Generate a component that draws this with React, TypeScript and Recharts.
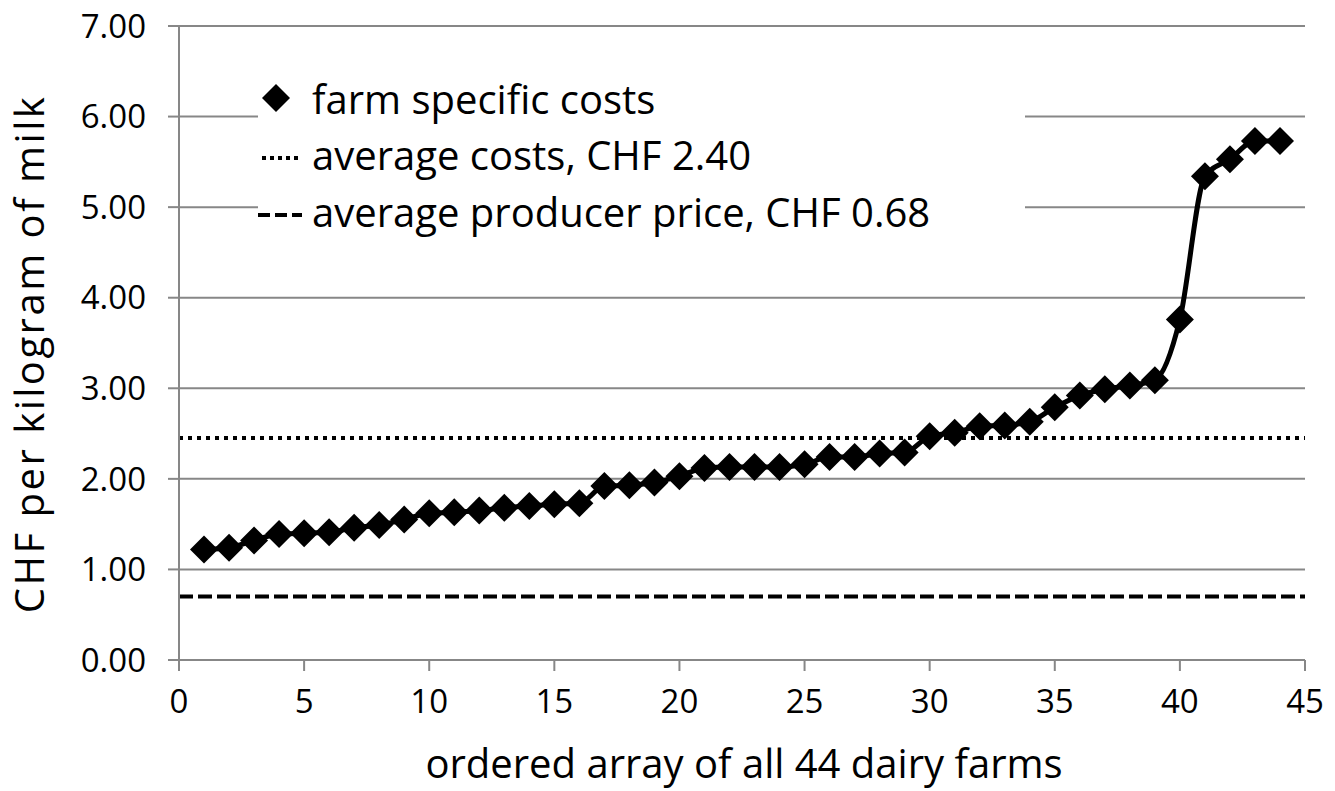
import React from 'react';
import { LineChart, Line, XAxis, YAxis, CartesianGrid, ReferenceLine, Legend } from 'recharts';

// farm rank 1..44, sorted by cost (CHF per kg of milk)
const farms = [
  1, 2, 3, 4, 5, 6, 7, 8, 9, 10, 11, 12, 13, 14, 15, 16, 17, 18, 19, 20, 21, 22,
  23, 24, 25, 26, 27, 28, 29, 30, 31, 32, 33, 34, 35, 36, 37, 38, 39, 40, 41, 42, 43, 44,
];
const costs = [
  1.22, 1.24, 1.32, 1.39, 1.40, 1.41, 1.46, 1.49, 1.55, 1.62, 1.63, 1.65, 1.68, 1.70, 1.72, 1.73,
  1.92, 1.93, 1.96, 2.03, 2.12, 2.13, 2.13, 2.13, 2.16, 2.24, 2.24, 2.28, 2.29, 2.47, 2.51, 2.58,
  2.59, 2.63, 2.79, 2.92, 2.99, 3.03, 3.09, 3.76, 5.34, 5.53, 5.73, 5.73,
];
const avgCostLine = 2.45;
const avgPriceLine = 0.7;
const xTicks = [0, 5, 10, 15, 20, 25, 30, 35, 40, 45];
const yTicks = [0, 1, 2, 3, 4, 5, 6, 7];

const data = farms.map((f, i) => ({ farm: f, cost: costs[i] }));

const FONT = '"Open Sans", sans-serif';
const GRID = '#878787';

const Diamond = (props: any) => {
  const { cx, cy } = props;
  if (cx == null || cy == null) return null;
  const r = 14;
  return <polygon points={`${cx},${cy - r} ${cx + r},${cy} ${cx},${cy + r} ${cx - r},${cy}`} fill="#000" />;
};

const LegendBox = () => (
  <div style={{ background: '#fff', width: 767, height: 172 }}>
    <svg width={767} height={172} style={{ position: 'absolute', left: 0, top: 0 }}>
      <polygon points="18,16 32,30 18,44 4,30" fill="#000" />
      <line x1={4} x2={44} y1={90} y2={90} stroke="#000" strokeWidth={4} strokeDasharray="4 4" />
      <line x1={0} x2={44} y1={147} y2={147} stroke="#000" strokeWidth={4} strokeDasharray="12 5" />
      <text x={54} y={46} fontSize={40} fontFamily={FONT}>farm specific costs</text>
      <text x={54} y={102} fontSize={40} fontFamily={FONT}>average costs, CHF 2.40</text>
      <text x={54} y={159} fontSize={40} fontFamily={FONT}>average producer price, CHF 0.68</text>
    </svg>
  </div>
);

export default function App() {
  return (
    <div style={{ position: 'absolute', left: 0, top: 0, width: 1335, height: 791, background: '#fff' }}>
      <LineChart width={1335} height={791} data={data} margin={{ top: 26, right: 30, bottom: 0, left: 0 }}>
        <CartesianGrid vertical={false} horizontal stroke={GRID} strokeWidth={2} />
        <XAxis
          type="number"
          dataKey="farm"
          domain={[0, 45]}
          ticks={xTicks}
          interval={0}
          height={131}
          stroke={GRID}
          strokeWidth={2}
          tickSize={11}
          tickMargin={19}
          tick={{ fill: '#000', fontSize: 33, fontFamily: FONT }}
          label={() => (
            <text x={744} y={778} textAnchor="middle" fontSize={40} fontFamily={FONT} fill="#000">
              ordered array of all 44 dairy farms
            </text>
          )}
        />
        <YAxis
          type="number"
          domain={[0, 7]}
          ticks={yTicks}
          interval={0}
          width={179}
          stroke={GRID}
          strokeWidth={2}
          tickSize={11}
          tickMargin={22}
          tickFormatter={(v: number) => v.toFixed(2)}
          tick={{ fill: '#000', fontSize: 33, fontFamily: FONT }}
          label={() => (
            <text
              x={44}
              y={354}
              transform="rotate(-90 44 354)"
              textAnchor="middle"
              fontSize={40}
              letterSpacing={2.5}
              fontFamily={FONT}
              fill="#000"
            >
              CHF per kilogram of milk
            </text>
          )}
        />
        <ReferenceLine y={avgCostLine} stroke="#000" strokeWidth={4} strokeDasharray="4 5" />
        <ReferenceLine y={avgPriceLine} stroke="#000" strokeWidth={4} strokeDasharray="14 5" />
        <Line
          type="monotone"
          dataKey="cost"
          stroke="#000"
          strokeWidth={5}
          dot={<Diamond />}
          activeDot={false}
          isAnimationActive={false}
        />
        <Legend
          layout="vertical"
          align="center"
          verticalAlign="middle"
          content={() => <LegendBox />}
          wrapperStyle={{ left: 258, top: 68, width: 767, height: 172 }}
        />
      </LineChart>
    </div>
  );
}
